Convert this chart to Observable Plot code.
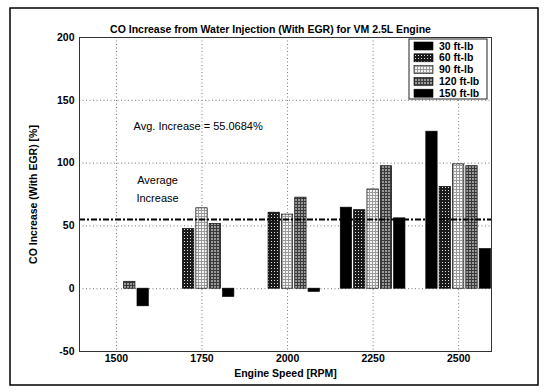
<!DOCTYPE html>
<html>
<head>
<meta charset="utf-8">
<script src="https://cdn.jsdelivr.net/npm/d3@7"></script>
<script src="https://cdn.jsdelivr.net/npm/@observablehq/plot@0.6"></script>
<style>
  html, body { margin: 0; padding: 0; background: white; }
</style>
</head>
<body>
<div id="chart"></div>
<script>
const title = "CO Increase from Water Injection (With EGR) for VM 2.5L Engine";
const rpm = [1500, 1750, 2000, 2250, 2500];
const series = ["30 ft-lb", "60 ft-lb", "90 ft-lb", "120 ft-lb", "150 ft-lb"];
const v30  = [0, 0, 0, 64.5, 125];
const v60  = [0, 47.5, 60.5, 62.5, 81];
const v90  = [0, 64, 59, 79, 99];
const v120 = [5.5, 51.5, 72.5, 97.5, 97.5];
const v150 = [-14, -6.5, -2.5, 56, 31.5];
const avg = 55.0684;
const yTicks = [-50, 0, 50, 100, 150, 200];
const fills = ["#000", "url(#p60)", "url(#p90)", "url(#p120)", "#000"];

const allValues = [v30, v60, v90, v120, v150];
const bars = [];
series.forEach((s, i) => {
  rpm.forEach((r, j) => bars.push({rpm: r, series: s, idx: i, value: allValues[i][j]}));
});
const step = 39, bw = 33;

const plot = Plot.plot({
  width: 546,
  height: 392,
  marginLeft: 79,
  marginRight: 55,
  marginTop: 37,
  marginBottom: 41,
  style: {fontFamily: "'Liberation Sans', Arial, sans-serif", fontSize: "10px", fontWeight: "bold", background: "white", color: "black"},
  x: {domain: [1392, 2596]},
  y: {domain: [-50, 200]},
  color: {domain: series, range: fills},
  marks: [
    Plot.gridX(rpm, {stroke: "#777", strokeOpacity: 1, strokeDasharray: "1,2.5"}),
    Plot.gridY(yTicks, {stroke: "#777", strokeOpacity: 1, strokeDasharray: "1,2.5"}),
    Plot.rectY(bars, {
      x1: d => d.rpm + (d.idx - 2) * step - bw / 2,
      x2: d => d.rpm + (d.idx - 2) * step + bw / 2,
      y1: 0, y2: "value",
      fill: "series", stroke: "black", strokeWidth: 0.7
    }),
    Plot.ruleY([avg], {stroke: "black", strokeWidth: 2, strokeDasharray: "6,2,2,2"}),
    Plot.frame({stroke: "#333", strokeWidth: 1}),
    Plot.axisX(rpm, {tickSize: 0, tickPadding: 3, tickFormat: d => String(d), label: "Engine Speed [RPM]", labelAnchor: "center", labelArrow: "none", labelOffset: 25, fontSize: 10.5}),
    Plot.axisY(yTicks, {tickSize: 0, tickPadding: 5, tickFormat: d => String(d), label: "CO Increase (With EGR) [%]", labelAnchor: "center", labelArrow: "none", labelOffset: 50, fontSize: 10.5}),
    Plot.text([title], {frameAnchor: "top", dx: -15, dy: -12, fontSize: 10.5, fontWeight: "bold"}),
    Plot.text(["Avg. Increase = 55.0684%"], {x: 1550, y: 129, textAnchor: "start", fontSize: 11, fontWeight: "normal"}),
    Plot.text(["Average"], {x: 1620, y: 86, fontSize: 11, fontWeight: "normal"}),
    Plot.text(["Increase"], {x: 1620, y: 72, fontSize: 11, fontWeight: "normal"})
  ]
});

// hatch patterns
const svgNS = "http://www.w3.org/2000/svg";
const defs = document.createElementNS(svgNS, "defs");
defs.innerHTML = `
  <pattern id="p60" width="3" height="3" patternUnits="userSpaceOnUse">
    <rect width="3" height="3" fill="#1a1a1a"/><rect x="1" y="1" width="1" height="1" fill="#e0e0e0"/>
  </pattern>
  <pattern id="p90" width="3" height="3" patternUnits="userSpaceOnUse">
    <rect width="3" height="3" fill="#9a9a9a"/><rect x="1" y="1" width="2" height="2" fill="#f4f4f4"/>
  </pattern>
  <pattern id="p120" width="3" height="3" patternUnits="userSpaceOnUse">
    <rect width="3" height="3" fill="#3a3a3a"/><rect x="1" y="1" width="2" height="2" fill="#9a9a9a"/>
  </pattern>`;
plot.insertBefore(defs, plot.firstChild);

// legend
const lg = document.createElementNS(svgNS, "g");
lg.setAttribute("text-anchor", "start");
const lx = 409, ly = 39, lw = 78, lh = 60;
let html = `<rect x="${lx}" y="${ly}" width="${lw}" height="${lh}" fill="white" stroke="#222" stroke-width="1"/>`;
series.forEach((s, i) => {
  const cy = ly + 7 + i * 11.8;
  html += `<rect x="${lx + 5}" y="${cy - 4}" width="${19}" height="${8}" fill="${fills[i]}" stroke="black" stroke-width="0.6"/>`;
  html += `<text x="${lx + 30}" y="${cy}" dy="0.35em" text-anchor="start" font-size="10.5" font-weight="bold" fill="black">${s}</text>`;
});
lg.innerHTML = html;
plot.appendChild(lg);

// outer page frame
const border = document.createElementNS(svgNS, "rect");
border.setAttribute("x", 10); border.setAttribute("y", 8);
border.setAttribute("width", 528); border.setAttribute("height", 377);
border.setAttribute("fill", "none"); border.setAttribute("stroke", "black"); border.setAttribute("stroke-width", 1.5);
plot.appendChild(border);

document.getElementById("chart").appendChild(plot);
</script>
</body>
</html>
